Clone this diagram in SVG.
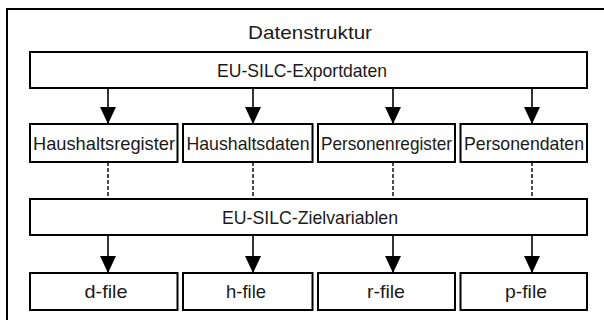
<svg xmlns="http://www.w3.org/2000/svg" width="604" height="320" viewBox="0 0 604 320">
<defs>
<marker id="ah" markerUnits="userSpaceOnUse" markerWidth="17" markerHeight="16" refX="17" refY="8" orient="auto">
<path d="M0,0 L17,8 L0,16 Z" fill="#000"/>
</marker>
<style>
.b{fill:#fff;stroke:#000;stroke-width:2}
.t{font-family:"Liberation Sans",Arial,sans-serif;font-size:19px;fill:#1a1a1a;text-anchor:middle}
.a{stroke:#000;stroke-width:1.6;fill:none;marker-end:url(#ah)}
.d{stroke:#000;stroke-width:1.4;fill:none;stroke-dasharray:4 2}
</style>
</defs>
<rect x="0" y="0" width="604" height="320" fill="#fff"/>
<rect id="frame" x="7" y="9" width="620" height="340" fill="none" stroke="#000" stroke-width="2"/>
<text class="t" x="310" y="39" textLength="124" lengthAdjust="spacingAndGlyphs">Datenstruktur</text>
<g id="connectors">
<line class="a" x1="108" y1="88" x2="108" y2="124"/>
<line class="a" x1="253" y1="88" x2="253" y2="124"/>
<line class="a" x1="393" y1="88" x2="393" y2="124"/>
<line class="a" x1="532" y1="88" x2="532" y2="124"/>
<line class="d" x1="108" y1="162" x2="108" y2="199"/>
<line class="d" x1="253" y1="162" x2="253" y2="199"/>
<line class="d" x1="393" y1="162" x2="393" y2="199"/>
<line class="d" x1="532" y1="162" x2="532" y2="199"/>
<line class="a" x1="108" y1="235" x2="108" y2="273"/>
<line class="a" x1="253" y1="235" x2="253" y2="273"/>
<line class="a" x1="393" y1="235" x2="393" y2="273"/>
<line class="a" x1="532" y1="235" x2="532" y2="273"/>
</g>
<g id="export"><rect class="b" x="30" y="52" width="557" height="36"/><text class="t" x="302" y="77" textLength="170" lengthAdjust="spacingAndGlyphs">EU-SILC-Exportdaten</text></g>
<g id="hhreg"><rect class="b" x="30" y="124" width="147.5" height="38"/><text class="t" x="104" y="150" textLength="142" lengthAdjust="spacingAndGlyphs">Haushaltsregister</text></g>
<g id="hhdat"><rect class="b" x="183" y="124" width="129.5" height="38"/><text class="t" x="248" y="150" textLength="123" lengthAdjust="spacingAndGlyphs">Haushaltsdaten</text></g>
<g id="pereg"><rect class="b" x="318" y="124" width="137" height="38"/><text class="t" x="386.5" y="150" textLength="131" lengthAdjust="spacingAndGlyphs">Personenregister</text></g>
<g id="perdat"><rect class="b" x="460.5" y="124" width="126.5" height="38"/><text class="t" x="524" y="150" textLength="120" lengthAdjust="spacingAndGlyphs">Personendaten</text></g>
<g id="ziel"><rect class="b" x="30" y="199" width="557" height="36"/><text class="t" x="310" y="223.5" textLength="176" lengthAdjust="spacingAndGlyphs">EU-SILC-Zielvariablen</text></g>
<g id="dfile"><rect class="b" x="30" y="273" width="147.5" height="37"/><text class="t" x="106" y="298" textLength="43" lengthAdjust="spacingAndGlyphs">d-file</text></g>
<g id="hfile"><rect class="b" x="183" y="273" width="129.5" height="37"/><text class="t" x="246" y="298" textLength="40" lengthAdjust="spacingAndGlyphs">h-file</text></g>
<g id="rfile"><rect class="b" x="318" y="273" width="137" height="37"/><text class="t" x="386" y="298" textLength="38" lengthAdjust="spacingAndGlyphs">r-file</text></g>
<g id="pfile"><rect class="b" x="460.5" y="273" width="126.5" height="37"/><text class="t" x="526" y="298" textLength="42" lengthAdjust="spacingAndGlyphs">p-file</text></g>
</svg>
